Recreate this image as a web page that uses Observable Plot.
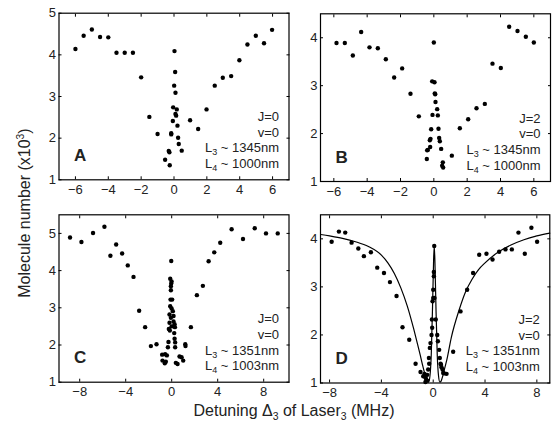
<!DOCTYPE html>
<html><head><meta charset="utf-8">
<script src="https://cdn.jsdelivr.net/npm/d3@7"></script>
<script src="https://cdn.jsdelivr.net/npm/@observablehq/plot@0.6"></script>
<style>
body{margin:0;background:#fff;}
#wrap{position:relative;width:556px;height:424px;font-family:"Liberation Sans",Arial,sans-serif;color:#222;overflow:hidden;}
.panel{position:absolute;}
#ytitle{position:absolute;left:25px;top:213px;transform:translate(-50%,-50%) rotate(-90deg);white-space:nowrap;font-size:16px;}
#xtitle{position:absolute;left:294px;top:402px;transform:translateX(-50%);white-space:nowrap;font-size:16px;}
sub{font-size:65%;vertical-align:-0.35em;line-height:0;}
sup{font-size:65%;vertical-align:0.55em;line-height:0;}
</style></head><body>
<div id="wrap">
  <div id="ytitle">Molecule number (x10<sup>3</sup>)</div>
  <div id="xtitle">Detuning Δ<sub>3</sub> of Laser<sub>3</sub> (MHz)</div>
</div>
<script>
// ---------- Data ----------
// Panel A : J=0, v=0, L3 ~ 1345nm, L4 ~ 1000nm
const A_x = [-6,-5.5,-5,-4.5,-4,-3.5,-3,-2.5,-2,-1.5,-1,
  0.03,0.07,0.01,0.09,-0.05,0.17,0.13,0.09,-0.07,0.21,-0.17,-0.17,0.25,0.29,0.47,-0.32,-0.28,-0.54,-0.26,
  0.98,1.47,1.98,2.48,2.97,3.48,3.98,4.47,4.98,5.48,5.97];
const A_y = [4.14,4.46,4.61,4.43,4.42,4.05,4.05,4.05,3.46,2.51,2.10,
  4.09,3.59,3.26,3.09,2.74,2.69,2.54,2.58,2.41,2.30,2.12,2.09,2.01,1.86,1.70,1.69,1.66,1.48,1.35,
  2.43,2.22,2.69,3.26,3.45,3.49,3.87,4.25,4.46,4.28,4.60];

// Panel B : J=2, v=0, L3 ~ 1345nm, L4 ~ 1000nm
const B_x = [-5.84,-5.34,-4.86,-4.36,-3.86,-3.36,-2.88,-2.38,-1.9,-1.4,-0.9,
  0,-0.1,0.04,0.06,0.08,0.1,0.2,0.24,-0.08,-0.16,0.28,0.32,0.36,0.44,-0.2,-0.24,-0.22,-0.36,-0.4,-0.42,0.54,0.5,0.56,
  1.08,1.56,2.06,2.56,3.06,3.52,4.02,4.52,5.02,5.52,6.0];
const B_y = [3.89,3.89,3.63,4.12,3.80,3.78,3.55,3.17,3.36,2.83,2.36,
  3.90,3.09,3.07,2.84,2.82,2.66,2.51,2.38,2.39,2.09,2.10,1.91,1.84,1.68,1.89,1.86,1.72,1.66,1.65,1.47,1.40,1.33,1.29,
  1.54,2.11,2.30,2.53,2.62,3.46,3.37,4.23,4.14,4.02,3.90];

// Panel C : J=0, v=0, L3 ~ 1351nm, L4 ~ 1003nm
const C_x = [-8.84,-7.85,-6.84,-5.85,-4.83,-5.33,-4.31,-3.82,-3.32,-2.83,-2.31,-1.81,-1.32,
  -0.04,-0.13,-0.01,-0.04,-0.07,-0.07,-0.10,0.04,-0.13,-0.01,0.10,-0.19,0.16,-0.07,0.16,-0.19,0.25,-0.01,0.28,-0.25,-0.16,0.22,0.25,-0.28,0.30,-0.33,0.30,
  1.18,1.20,-0.83,-0.57,-0.42,-0.80,-0.51,-0.60,0.36,0.51,0.68,0.86,1.0,
  1.67,2.19,2.71,3.21,3.70,4.22,5.21,6.20,7.22,8.20,9.22];
const C_y = [4.89,4.77,5.01,5.18,4.70,4.40,4.46,4.14,3.83,2.92,2.48,1.97,2.02,
  4.26,3.78,3.71,3.65,3.58,3.47,3.22,3.22,3.04,2.98,2.91,2.82,2.78,2.73,2.63,2.60,2.56,2.50,2.48,2.43,2.39,2.32,2.17,2.08,2.07,1.94,1.94,
  2.02,1.97,1.74,1.75,1.72,1.58,1.55,1.51,1.52,1.49,1.69,1.67,1.58,
  2.48,3.34,3.59,4.25,4.49,4.75,5.11,4.85,5.14,5.00,5.00];

// Panel D : J=2, v=0, L3 ~ 1351nm, L4 ~ 1003nm  (points + fitted curve)
const D_x = [-7.84,-7.28,-6.79,-6.3,-5.78,-5.35,-4.81,-4.32,-3.80,-3.34,-2.83,-2.37,-1.85,-1.36,-0.98,-0.77,-0.67,-0.57,-0.46,-0.6,
  0.08,0.05,0.05,0,-0.05,0,0.1,-0.1,-0.08,-0.13,-0.21,-0.26,-0.33,-0.31,-0.39,-0.46,
  0.2,0.31,0.36,0.46,0.51,0.57,0.64,0.72,0.77,1.03,0.85,0.6,
  1.54,2.11,2.62,3.08,3.55,4.11,4.58,5.09,5.58,6.07,6.58,7.07,7.58,8.02];
const D_y = [3.94,4.15,4.13,3.92,3.80,3.64,3.72,3.40,3.29,3.10,2.81,2.16,1.90,1.40,1.23,1.14,1.19,1.10,1.05,1.02,
  3.85,3.31,3.22,2.94,2.70,2.77,2.77,2.32,2.15,2.00,1.83,1.73,1.52,1.40,1.28,1.17,
  2.32,2.00,1.87,1.69,1.52,1.40,1.33,1.28,1.21,1.19,1.20,1.38,
  1.65,2.49,2.94,3.29,3.67,3.69,3.57,3.73,3.78,3.78,4.13,3.69,4.23,3.94];
const D_fitX = [-8.7,-8,-7,-6,-5,-4,-3.5,-3,-2.5,-2,-1.5,-1.2,-1,-0.8,-0.6,-0.45,-0.35,-0.25,-0.15,-0.05,0.03,0.08,0.13,0.21,0.31,0.41,0.51,0.61,0.75,0.9,1.05,1.4,2,2.5,3,3.5,4,5,6,7,8,9];
const D_fitY = [4.09,4.06,4.01,3.94,3.84,3.66,3.50,3.28,2.98,2.60,2.12,1.80,1.58,1.35,1.15,1.04,1.02,1.15,1.6,2.6,3.55,3.85,3.55,2.6,1.6,1.15,1.02,1.04,1.16,1.32,1.48,1.95,2.52,2.90,3.16,3.36,3.50,3.72,3.87,3.98,4.06,4.12];

// Tick labels
const ticksA_x = [-6,-4,-2,0,2,4,6];
const ticksCD_x = [-8,-4,0,4,8];
const ticksY5 = [1,2,3,4,5];
const ticksY4 = [1,2,3,4];

// Texts
const letters = ["A","B","C","D"];
const notes = [
  ["J=0","v=0","L3 ~ 1345nm","L4 ~ 1000nm"],
  ["J=2","v=0","L3 ~ 1345nm","L4 ~ 1000nm"],
  ["J=0","v=0","L3 ~ 1351nm","L4 ~ 1003nm"],
  ["J=2","v=0","L3 ~ 1351nm","L4 ~ 1003nm"]
];

const zip = (xs, ys) => xs.map((x, i) => ({x, y: ys[i]}));
const fmt = d3.format("d");

function makePanel(cfg) {
  const {left, top, width, height, mL, mR, mT, mB, xDomain, yDomain, xTicks, yTicks, pts, fit, idx} = cfg;
  const marks = [
    // inward ticks on all four sides
    Plot.axisX({ticks: xTicks, anchor: "bottom", tickSize: 3, dy: -3, tickFormat: () => "", stroke: "black"}),
    Plot.axisX({ticks: xTicks, anchor: "top", tickSize: 3, dy: 3, tickFormat: () => "", stroke: "black"}),
    Plot.axisY({ticks: yTicks, anchor: "left", tickSize: 3, dx: 3, tickFormat: () => "", stroke: "black"}),
    Plot.axisY({ticks: yTicks, anchor: "right", tickSize: 3, dx: -3, tickFormat: () => "", stroke: "black"}),
    // labels
    Plot.axisX({ticks: xTicks, anchor: "bottom", tickSize: 0, tickPadding: 5, fontSize: 13, fill: "#222", label: null, tickFormat: fmt}),
    Plot.axisY({ticks: yTicks, anchor: "left", tickSize: 0, tickPadding: 3, fontSize: 13, fill: "#222", label: null, tickFormat: fmt}),
    Plot.frame({stroke: "black", strokeWidth: 1.2}),
    Plot.dot(pts, {x: "x", y: "y", r: 2.2, fill: "black", stroke: null}),
    Plot.text([letters[idx]], {frameAnchor: "bottom-left", dx: 15, dy: -19, fontSize: 17, fontWeight: "bold", textAnchor: "start", lineAnchor: "bottom", fill: "#222"}),
    Plot.text([notes[idx].join("\n")], {frameAnchor: "bottom-right", dx: -10, dy: -12, fontSize: 13, textAnchor: "end", lineAnchor: "bottom", lineHeight: 1.2, fill: "#222"})
  ];
  if (fit) marks.push(Plot.line(fit, {x: "x", y: "y", stroke: "black", strokeWidth: 1.2, curve: "monotone-x"}));
  const svg = Plot.plot({
    width, height,
    marginLeft: mL, marginRight: mR, marginTop: mT, marginBottom: mB,
    x: {domain: xDomain, label: null},
    y: {domain: yDomain, label: null},
    style: {fontFamily: '"Liberation Sans", Arial, sans-serif', fontSize: "13px", background: "none", overflow: "visible", color: "#222"},
    marks
  });
  svg.classList.add("panel");
  svg.style.position = "absolute";
  svg.style.left = left + "px";
  svg.style.top = top + "px";
  // subscripts for L3 / L4
  svg.querySelectorAll("tspan").forEach(ts => {
    const m = ts.textContent.match(/^L(\d)( ~ .*)$/);
    if (!m) return;
    ts.textContent = "L";
    const ns = "http://www.w3.org/2000/svg";
    const sub = document.createElementNS(ns, "tspan");
    sub.setAttribute("dy", "3");
    sub.setAttribute("font-size", "9");
    sub.textContent = m[1];
    const rest = document.createElementNS(ns, "tspan");
    rest.setAttribute("dy", "-3");
    rest.textContent = m[2];
    ts.appendChild(sub);
    ts.appendChild(rest);
  });
  document.getElementById("wrap").appendChild(svg);
}

makePanel({left: 30, top: 0, width: 268, height: 200, mL: 28.5, mR: 9.5, mT: 12.7, mB: 20.7,
  xDomain: [-7, 7], yDomain: [1, 5], xTicks: ticksA_x, yTicks: ticksY5, pts: zip(A_x, A_y), idx: 0});
makePanel({left: 298, top: 0, width: 258, height: 200, mL: 22, mR: 6, mT: 13.3, mB: 19,
  xDomain: [-6.8, 7], yDomain: [1, 4.5], xTicks: ticksA_x, yTicks: ticksY4, pts: zip(B_x, B_y), idx: 1});
makePanel({left: 30, top: 200, width: 268, height: 200, mL: 28.5, mR: 9.5, mT: 14.3, mB: 18.3,
  xDomain: [-9.8, 10.2], yDomain: [1, 5.5], xTicks: ticksCD_x, yTicks: ticksY5, pts: zip(C_x, C_y), idx: 2});
makePanel({left: 298, top: 200, width: 258, height: 200, mL: 22, mR: 6.7, mT: 14.3, mB: 17.5,
  xDomain: [-8.7, 9], yDomain: [1, 4.5], xTicks: ticksCD_x, yTicks: ticksY4, pts: zip(D_x, D_y), fit: zip(D_fitX, D_fitY), idx: 3});
</script>
</body></html>
